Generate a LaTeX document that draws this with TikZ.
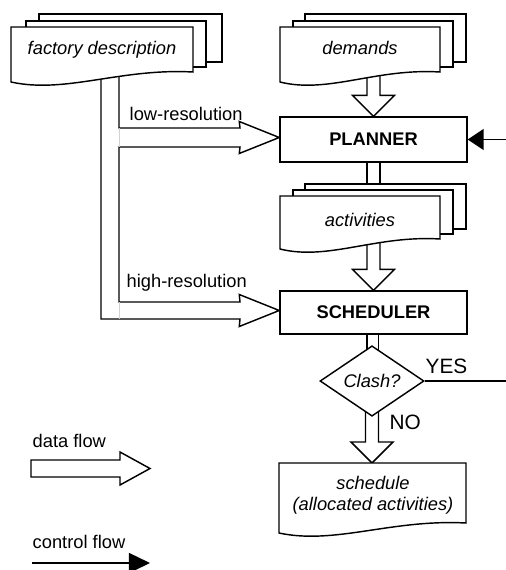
\documentclass[tikz,border=0pt]{standalone}
\usepackage{fontspec}
\setmainfont{Liberation Sans}
\usetikzlibrary{shapes.geometric,calc,arrows.meta}
\pgfdeclarelayer{background}
\pgfsetlayers{background,main}
\newcommand\basefont{\fontsize{9.15pt}{11pt}\selectfont}
\newcommand\bigfont{\fontsize{10.4pt}{12pt}\selectfont}
\tikzset{
  every path/.style={line width=0.72pt},
  fat/.style={draw, fill=white, line join=miter},
  docst/.style={draw, fill=white},
  procbox/.style={draw, fill=white, minimum width=93.5pt, inner sep=0pt, font=\basefont\bfseries},
  decision/.style={diamond, draw, fill=white, minimum width=52pt, minimum height=28pt, inner sep=0pt, font=\basefont\itshape},
  doctext/.style={font=\basefont\itshape, anchor=base, inner sep=0pt},
  lbl/.style={font=\basefont, anchor=base west, inner sep=0pt},
  biglbl/.style={font=\bigfont, anchor=base west, inner sep=0pt},
  ctrl/.style={-{Triangle[length=8pt,width=10.5pt]}},
  ctrlleg/.style={-{Triangle[length=10.5pt,width=10pt]}}
}
% document shape: x1, top, x2, bottom-left
\newcommand\docshape[4]{%
  \draw[docst] (#1,#2) -- (#3,#2) -- (#3,{#4-10})
    .. controls ({#1+0.6*(#3-#1)},{#4-14}) and ({#1+0.3*(#3-#1)},{#4+12}) .. (#1,#4) -- cycle;}
% vertical fat arrow: start, tip
\newcommand\fatdown[2]{%
  \draw[fat] ($(#1)+(-6.5,0)$) -- ($(#2)+(-6.5,-21)$) -- ($(#2)+(-21,-21)$) -- (#2)
    -- ($(#2)+(21,-21)$) -- ($(#2)+(6.5,-21)$) -- ($(#1)+(6.5,0)$);}
\begin{document}
\begin{tikzpicture}[x=0.5pt,y=-0.5pt]
\useasboundingbox (0,0) rectangle (506,570);

% factory description stack
\draw[docst] (39,14) rectangle (222,62);
\draw[docst] (26,21) rectangle (206,67);
\docshape{11}{27}{193}{82}
\node[doctext] (factory) at (102,54) {factory description};

% demands stack
\draw[docst] (305,14) rectangle (466,62);
\draw[docst] (293,21) rectangle (453,67);
\docshape{280}{27}{440}{82}
\node[doctext] (demands) at (360,54) {demands};

% activities stack
\draw[docst] (305,184) rectangle (466,229);
\draw[docst] (293,190) rectangle (453,234);
\docshape{280}{196}{440}{249}
\node[doctext] (activities) at (360,226) {activities};

% schedule document
\docshape{279}{463}{466}{533}
\coordinate (scheduletop) at (373,463);
\node[font=\fontsize{9.15pt}{10.5pt}\selectfont\itshape, align=center, inner sep=0pt] (schedule) at (373,495) {schedule\\(allocated activities)};

% process boxes
\node[procbox, minimum height=22.5pt] (planner) at (373.5,139.5) {PLANNER};
\node[procbox, minimum height=21.5pt] (scheduler) at (373.5,312.5) {SCHEDULER};
\node[decision] (clash) at (372,381) {Clash?};

% labels
\node[lbl] (lowres) at (129,120) {low-resolution};
\node[lbl] (highres) at (126,287) {high-resolution};
\node[biglbl] (yes) at (425,373) {YES};
\node[biglbl] (no) at (389,429) {NO};
\node[lbl] (dataflow) at (32,447) {data flow};
\node[lbl] (controlflow) at (32,548) {control flow};

% control flow into planner
\coordinate (ctrlin) at (506,139.5);
\draw[ctrl] (ctrlin) -- (planner.east);
% YES exit
\coordinate (yesout) at (506,381);
\draw (clash.east) -- (yesout);

% legend arrows
\coordinate (df1) at (31,468.5);
\coordinate (df2) at (150,468.5);
\draw[fat] ($(df1)+(0,-8.5)$) -- ($(df2)+(-30,-8.5)$) -- ($(df2)+(-30,-16.5)$) -- (df2)
  -- ($(df2)+(-30,16.5)$) -- ($(df2)+(-30,8.5)$) -- ($(df1)+(0,8.5)$) -- cycle;
\coordinate (cf1) at (32,563);
\coordinate (cf2) at (150,563);
\draw[ctrlleg] (cf1) -- (cf2);

\begin{pgfonlayer}{background}
  % demands -> planner
  \fatdown{planner.north |- demands.center}{planner.north}
  % planner -> activities (shaft)
  \draw[fat] ($(planner.south)+(-6.5,0)$) rectangle ($(planner.south |- activities.center)+(6.5,0)$);
  % activities -> scheduler
  \fatdown{scheduler.north |- activities.center}{scheduler.north}
  % scheduler -> clash (shaft)
  \draw[fat] ($(scheduler.south)+(-6.5,0)$) rectangle ($(clash.center)+(6.5,0)$);
  % clash -> schedule (NO)
  \fatdown{clash.center}{scheduletop -| clash.center}
  % factory description -> planner / scheduler
  \coordinate (lowtip) at ($(planner.west)+(0,-2)$);
  \coordinate (hightip) at ($(scheduler.west)+(0,-2)$);
  \draw[fat] (101,70) -- (101,319) -- (240,319) -- ($(hightip)+(-40,16)$) -- (hightip)
    -- ($(hightip)+(-40,-16)$) -- (240,302) -- (119,302) -- (119,147) -- (240,147)
    -- ($(lowtip)+(-40,16)$) -- (lowtip) -- ($(lowtip)+(-40,-16)$) -- (240,128)
    -- (119,128) -- (119,70);
  \draw[gray!35, line width=0.4pt] (119,128) -- (119,147);
  \draw[gray!35, line width=0.4pt] (119,302) -- (119,319);
\end{pgfonlayer}
\end{tikzpicture}
\end{document}
